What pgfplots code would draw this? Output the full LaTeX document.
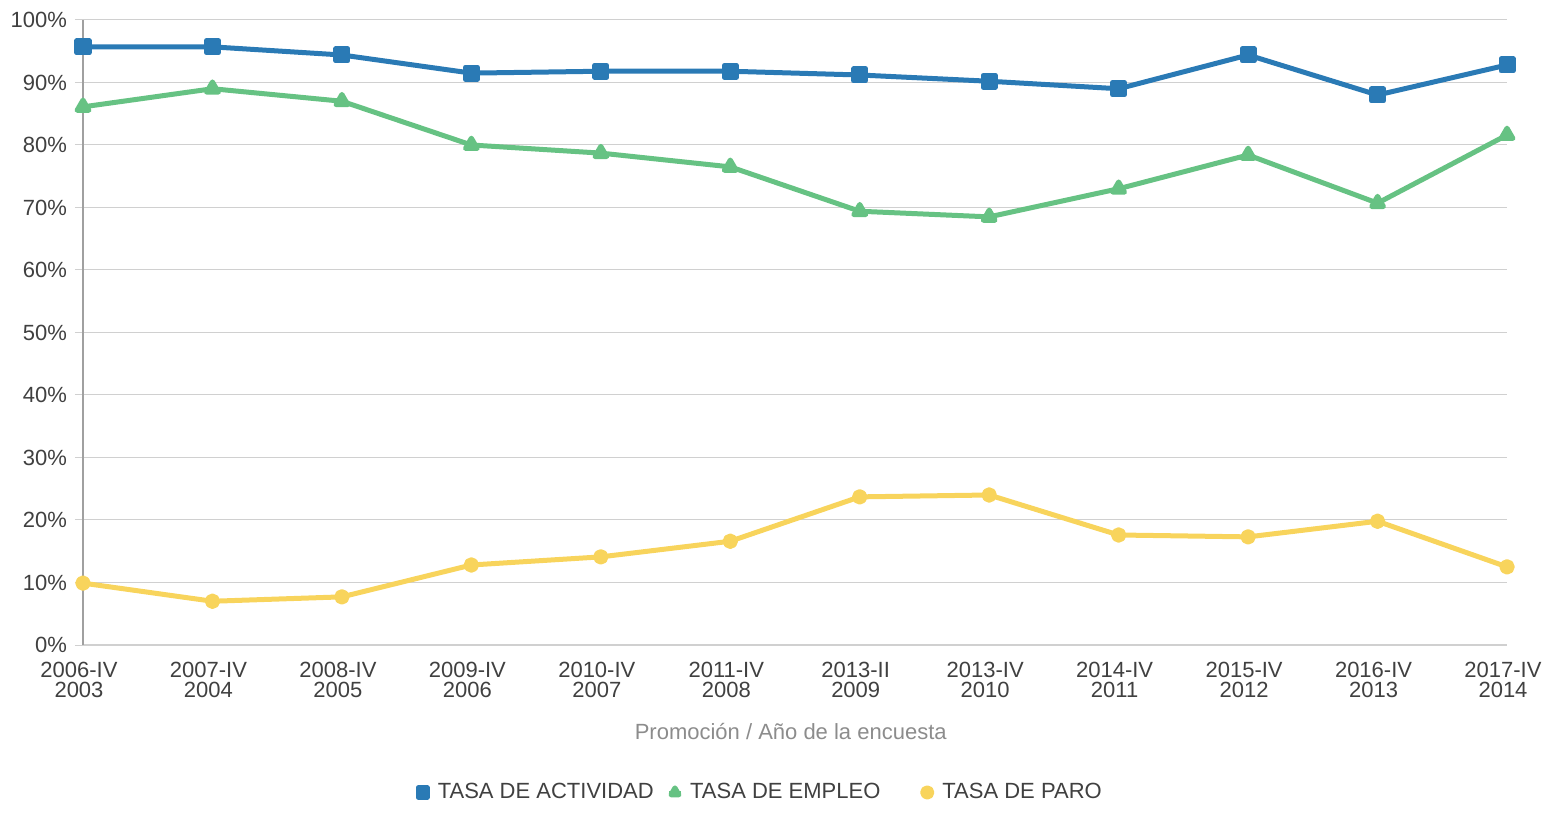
\documentclass[border=0pt]{standalone}
\usepackage{fontspec}
\setmainfont{Liberation Sans}
\usepackage{pgfplots}
\pgfplotsset{compat=1.18}
\definecolor{cblue}{HTML}{2A7AB5}
\definecolor{cgreen}{HTML}{66C283}
\definecolor{cyellow}{HTML}{F8D45C}
\definecolor{ctext}{HTML}{404040}
\definecolor{ctitle}{HTML}{8C8C8C}
\definecolor{cgrid}{HTML}{D0D0D0}
\definecolor{caxis}{HTML}{A0A0A0}
\begin{document}
\begin{tikzpicture}
\path[use as bounding box] (0,0) rectangle (775bp,406.5bp);
\begin{axis}[
  at={(41.5bp,84bp)}, anchor=south west,
  scale only axis, width=712bp, height=312.5bp,
  xmin=0, xmax=11, ymin=0, ymax=100,
  axis lines=left, axis line style={caxis, line width=0.6bp, -},
  x axis line style={cgrid},
  ytick={0,10,...,100},
  yticklabels={0\%,10\%,20\%,30\%,40\%,50\%,60\%,70\%,80\%,90\%,100\%},
  xtick={0,...,11},
  xticklabels={{2006-IV\\2003},{2007-IV\\2004},{2008-IV\\2005},{2009-IV\\2006},{2010-IV\\2007},{2011-IV\\2008},{2013-II\\2009},{2013-IV\\2010},{2014-IV\\2011},{2015-IV\\2012},{2016-IV\\2013},{2017-IV\\2014}},
  xticklabel style={align=center, font=\fontsize{11bp}{10bp}\selectfont, text=ctext, yshift=-3bp, xshift=-2bp},
  yticklabel style={font=\fontsize{11bp}{12bp}\selectfont, text=ctext, xshift=-0.5bp},
  ymajorgrids, grid style={cgrid, line width=0.5bp},
  major y tick style={cgrid, line width=0.5bp},
  ytick align=outside, major tick length=4bp,
  xtick style={draw=none},
  /pgf/number format/assume math mode=true,
  xlabel={Promoción / Año de la encuesta},
  xlabel style={at={(axis description cs:0.497,-0.138)}, anchor=center, font=\fontsize{11bp}{12bp}\selectfont, text=ctitle},
  legend columns=3,
  legend style={at={(axis description cs:0.229,-0.236)}, anchor=west, draw=none, fill=none,
    font=\fontsize{11bp}{12bp}\selectfont, text=ctext,
    /tikz/every even column/.append style={column sep=2bp}},
  legend image code/.code={\draw[#1, line width=1.5bp] (-0.1cm,0cm) -- (0.1cm,0cm); \path[#1, mark size=2.3bp] plot coordinates {(0cm,0cm)};},
  every axis plot/.append style={line width=2.5bp, line join=round},
]
\addplot[cblue, mark=square*, mark size=3bp, mark options={solid}] coordinates {
(0,95.7) (1,95.7) (2,94.4) (3,91.5) (4,91.8) (5,91.8) (6,91.2) (7,90.2) (8,89.0) (9,94.4) (10,88.0) (11,92.8)};
\addlegendentry{\hspace{2bp}\makebox[111bp][l]{TASA DE ACTIVIDAD}}
\addplot[cgreen, mark=triangle*, mark size=3.4bp] coordinates {
(0,86.1) (1,89.0) (2,87.0) (3,80.0) (4,78.7) (5,76.5) (6,69.4) (7,68.5) (8,73.0) (9,78.4) (10,70.7) (11,81.6)};
\addlegendentry{\hspace{2bp}\makebox[111bp][l]{TASA DE EMPLEO}}
\addplot[cyellow, mark=*, mark size=2.6bp] coordinates {
(0,9.9) (1,7.0) (2,7.7) (3,12.8) (4,14.1) (5,16.6) (6,23.7) (7,24.0) (8,17.6) (9,17.3) (10,19.8) (11,12.5)};
\addlegendentry{\hspace{2bp}TASA DE PARO}
\end{axis}
\end{tikzpicture}
\end{document}
